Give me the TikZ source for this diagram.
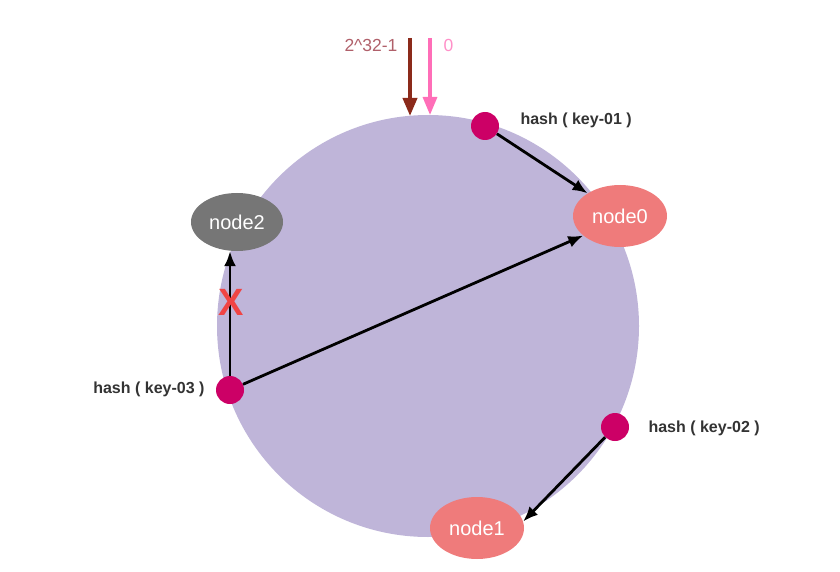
\documentclass[tikz,border=0pt]{standalone}
\usepackage{fontspec}
\setmainfont{Liberation Sans}
\usetikzlibrary{arrows.meta,shapes.geometric}
\definecolor{ringfill}{HTML}{BFB5D9}
\definecolor{hashdot}{HTML}{CC0066}
\definecolor{srvred}{HTML}{EF7B7B}
\definecolor{srvgray}{HTML}{767676}
\definecolor{maxbrown}{HTML}{8B2A1A}
\definecolor{maxtext}{HTML}{B0606A}
\definecolor{zeropink}{HTML}{FF6EB8}
\definecolor{zerotext}{HTML}{FF90C8}
\definecolor{lbltext}{HTML}{333333}
\definecolor{crossred}{HTML}{F04444}

\begin{document}
\begin{tikzpicture}[
        x=1pt, y=-1pt,
        ring/.style={
          circle, fill=ringfill, draw=none,
          minimum size=422pt, inner sep=0pt,
        },
        dot/.style={
          circle, fill=hashdot, draw=none,
          minimum size=28pt, inner sep=0pt,
        },
        srv/.style={
          ellipse, fill=srvred, draw=none, text=white,
          minimum width=94pt, minimum height=62pt, inner sep=0pt,
          font=\fontsize{20}{22}\selectfont,
        },
        dead/.style={srv, fill=srvgray, minimum width=92pt, minimum height=58pt},
        arr/.style={-{Latex[length=15pt,width=12pt]}, draw=black, line width=2.8pt},
        bound/.style={line width=3.8pt, -{Triangle[length=18pt,width=14pt]}},
        lbl/.style={font=\fontsize{16}{18}\selectfont\bfseries, text=lbltext},
      ]
      \useasboundingbox (0,0) rectangle (840,572);

      % hash ring
      \node[ring] (ring) at (428,326) {};

      % 2^32-1 and 0 meet at the top
      \coordinate (maxtop) at (410,38);
      \coordinate (maxend) at (410,116);
      \coordinate (zerotop) at (430,38);
      \coordinate (zeroend) at (430,115);
      \draw[bound, draw=maxbrown, fill=maxbrown] (maxtop) -- (maxend);
      \draw[bound, line width=3.2pt, draw=zeropink, fill=zeropink] (zerotop) -- (zeroend);
      \node[anchor=east, text=maxtext, font=\fontsize{17.5}{19}\selectfont] (maxlbl) at (401,45) {2\^{}32-1};
      \node[anchor=west, text=zerotext, font=\fontsize{17.5}{19}\selectfont] (zerolbl) at (440,45) {0};

      % servers
      \node[srv]  (n0) at (620,216) {node0};
      \node[srv]  (n1) at (477,528) {node1};
      \node[dead] (n2) at (237,222) {node2};

      % keys
      \node[dot] (k1) at (485,126) {};
      \node[dot] (k2) at (615,427) {};
      \node[dot] (k3) at (230,390) {};

      \node[lbl, anchor=west] at (517,120) {hash ( key-01 )};
      \node[lbl, anchor=west] at (645,428) {hash ( key-02 )};
      \node[lbl, anchor=east] at (208,389) {hash ( key-03 )};

      \draw[arr] (k1) -- (n0.145);
      \draw[arr] (k2) -- (n1.8);
      \draw[arr] (k3) -- (n0.208);
      \draw[arr] (k3.north) -- (k3.north |- n2.south);

      % node2 is gone
      \node[text=crossred, font=\fontsize{38}{40}\selectfont\bfseries] (cross) at (231,302) {X};
    \end{tikzpicture}
\end{document}
